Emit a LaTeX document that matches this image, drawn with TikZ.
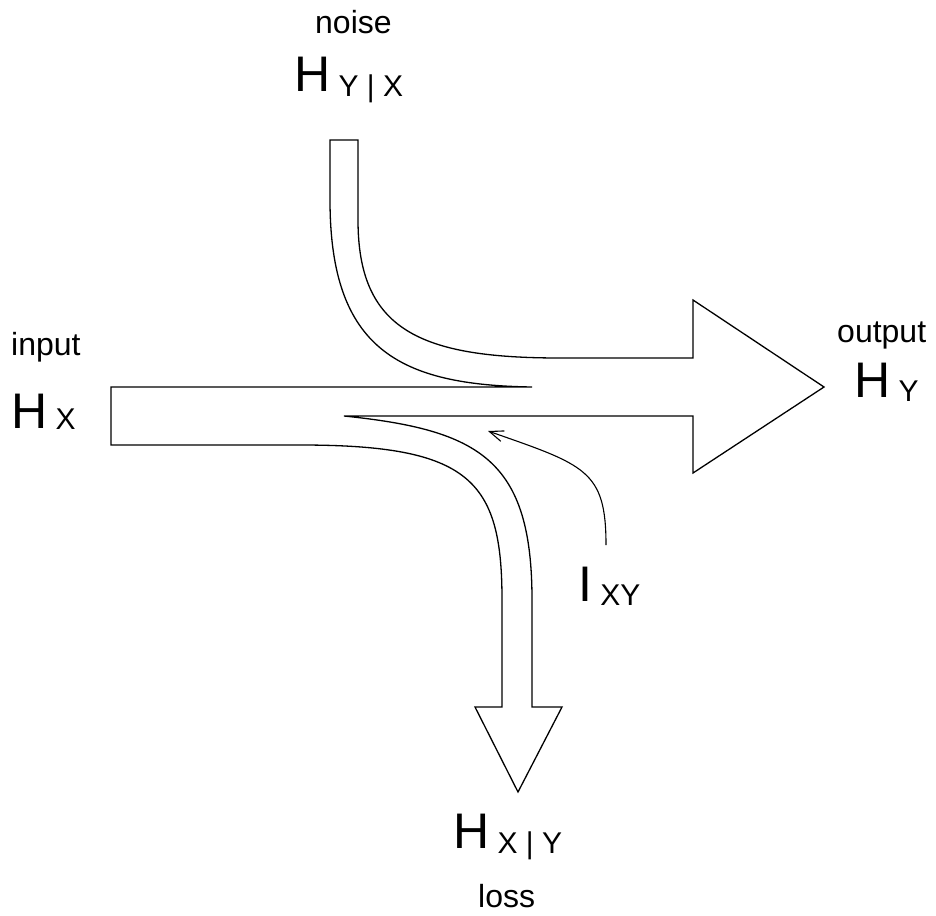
\documentclass[tikz,border=0pt]{standalone}
\usepackage{fontspec}
\setmainfont{Liberation Sans}
\usetikzlibrary{arrows.meta}
\newcommand\bigH[1]{{\fontsize{50}{60}\selectfont #1}}
\newcommand\subtx[2]{\raisebox{-#1pt}{\fontsize{30}{36}\selectfont\ #2}}
\begin{document}
\begin{tikzpicture}[x=1pt,y=-1pt,
  outline/.style={line width=1.3pt, line join=miter},
  lbl/.style={font=\fontsize{32}{38}\selectfont, anchor=base west, inner sep=0pt},
  sym/.style={anchor=base west, inner sep=0pt}]
\useasboundingbox (0,0) rectangle (936,915);

% the flow shape: input, noise, output, loss
\draw[outline] (532,387) -- (111,387) -- (111,445) -- (300,445)
  .. controls (470,445) and (502,480) .. (502,600)
  -- (502,707) -- (475,707) -- (518,792) -- (562,707) -- (532,707) -- (532,600)
  .. controls (532,460) and (480,430) .. (344,416)
  -- (693,416) -- (693,473) -- (824,387) -- (693,300) -- (693,358) -- (560,358)
  .. controls (420,358) and (358,330) .. (358,220)
  -- (358,140) -- (330,140) -- (330,200)
  .. controls (330,350) and (400,385) .. (532,387);

% labels
\node[lbl] (noise) at (315,34) {noise};
\node[sym] (hyx) at (294,92) {\bigH{H}\subtx{5}{Y | X}};
\node[lbl] (input) at (11,355) {input};
\node[sym] (hx) at (11,428) {\bigH{H}\subtx{1}{X}};
\node[lbl] (output) at (837,342) {output};
\node[sym] (hy) at (854,397) {\bigH{H}\subtx{4}{Y}};
\node[sym] (ixy) at (578,601) {\bigH{I}\subtx{4}{XY}};
\node[sym] (hxy) at (453,848) {\bigH{H}\subtx{5}{X | Y}};
\node[lbl] (loss) at (478,907) {loss};

% mutual information arrow
\coordinate (istart) at (606,545);
\coordinate (iend) at (488,431);
\draw[line width=1.1pt, -{Straight Barb[length=14pt,width=11pt]}]
  (istart) .. controls (606,470) and (585,465) .. (iend);
\end{tikzpicture}
\end{document}
